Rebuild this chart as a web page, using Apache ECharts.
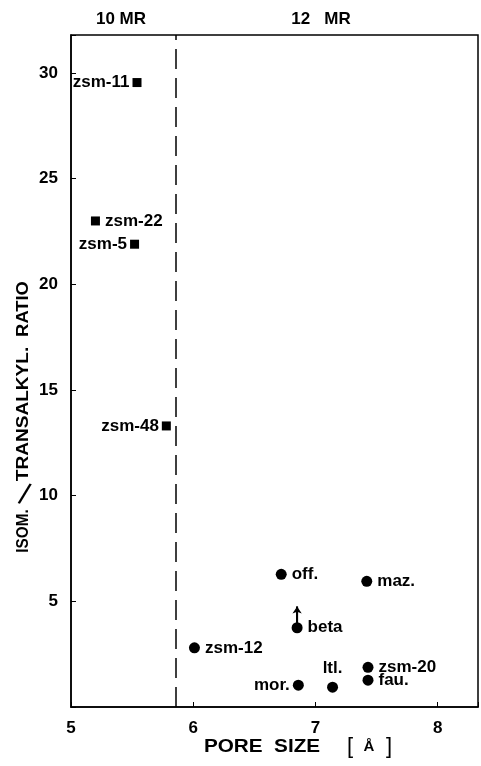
<!DOCTYPE html>
<html><head><meta charset="utf-8">
<script src="https://cdn.jsdelivr.net/npm/echarts@6/dist/echarts.min.js"></script>
<style>html,body{margin:0;padding:0;background:#fff}#c{width:481px;height:766px}</style>
</head><body><div id="c"></div>
<script>
// 10-MR zeolites (squares)
const sqNames = ['zsm-11','zsm-22','zsm-5','zsm-48'];
const sqX = [5.54, 5.20, 5.52, 5.78];
const sqY = [29.55, 23.0, 21.9, 13.3];
const sqPos = ['left','right','left','left'];
// 12-MR zeolites (circles)
const ciNames = ['off.','maz.','beta','zsm-12','zsm-20','fau.','mor.','ltl.'];
const ciX = [6.72, 7.42, 6.85, 6.01, 7.43, 7.43, 6.86, 7.14];
const ciY = [6.28, 5.95, 3.75, 2.8, 1.88, 1.27, 1.03, 0.94];
const ciPos = ['right','right','right','right','right','right','left','top'];
// beta arrow (lower bound)
const betaArrow = [[6.85, 3.75], [6.85, 4.75]];
const boundaryX = 5.86;
const xTicks = [5, 6, 7, 8];
const yTicks = [5, 10, 15, 20, 25, 30];

const font = 'Liberation Sans, Arial, sans-serif';
const chart = echarts.init(document.getElementById('c'));
function pts(names, xs, ys, pos) {
  return names.map((n, i) => ({
    value: [xs[i], ys[i]], name: n,
    label: { show: true, position: pos[i], formatter: n, distance: pos[i] === 'left' ? 3 : 5 }
  }));
}
const lbl = { color: '#000', fontFamily: font, fontWeight: 'bold', fontSize: 17 };
function txt(text, x, y, rotation, sx, weight, size) {
  return { type: 'text', x: x, y: y, rotation: rotation, scaleX: sx,
    style: { text: text, fill: '#000', font: weight + ' ' + size + 'px ' + font, textAlign: 'center', textVerticalAlign: 'middle' } };
}
chart.setOption({
  animation: false,
  grid: { left: 71, right: 1, top: 35, bottom: 59, show: true, borderColor: '#000', borderWidth: 1.5 },
  xAxis: {
    type: 'value', min: 5, max: 8.33, interval: 1,
    axisLine: { lineStyle: { color: '#000', width: 1.5 } },
    axisTick: { inside: true, length: 5, lineStyle: { color: '#000' } },
    axisLabel: { color: '#000', fontFamily: font, fontWeight: 'bold', fontSize: 17, margin: 13,
      formatter: v => xTicks.includes(v) ? String(v) : '' },
    splitLine: { show: false }
  },
  yAxis: {
    type: 'value', min: 0, max: 31.8, interval: 5,
    axisLine: { lineStyle: { color: '#000', width: 1.5 } },
    axisTick: { inside: true, length: 5, lineStyle: { color: '#000' } },
    axisLabel: { color: '#000', fontFamily: font, fontWeight: 'bold', fontSize: 17, margin: 13,
      formatter: v => yTicks.includes(v) ? String(v) : '' },
    splitLine: { show: false }
  },
  series: [
    {
      type: 'scatter', symbol: 'rect', symbolSize: 9,
      itemStyle: { color: '#000', opacity: 1 },
      label: lbl,
      data: pts(sqNames, sqX, sqY, sqPos),
      markLine: {
        silent: true, symbol: 'none', label: { show: false },
        lineStyle: { color: '#000', type: [20, 9], width: 1.5 },
        data: [{ xAxis: boundaryX }]
      }
    },
    {
      type: 'scatter', symbol: 'circle', symbolSize: 11,
      itemStyle: { color: '#000', opacity: 1 },
      label: lbl,
      data: pts(ciNames, ciX, ciY, ciPos)
    },
    {
      type: 'line', data: betaArrow, symbol: 'none',
      lineStyle: { color: '#000', width: 2 }, silent: true,
      markLine: {
        silent: true, symbol: ['none', 'arrow'], symbolSize: 7, label: { show: false },
        lineStyle: { color: '#000', type: 'solid', width: 2 },
        data: [[{ coord: betaArrow[0] }, { coord: betaArrow[1] }]]
      }
    }
  ],
  graphic: [
    txt('10 MR', 121, 19, 0, 1, 'bold', 17),
    txt('12   MR', 321, 19, 0, 1, 'bold', 17),
    txt('PORE  SIZE', 262, 747, 0, 1.15, 'bold', 18),
    txt('[', 350, 747, 0, 1, 'normal', 22),
    txt('Å', 369, 747, 0, 1, 'bold', 15),
    txt(']', 389, 747, 0, 1, 'normal', 22),
    txt('RATIO', 23, 309, Math.PI / 2, 1.08, 'bold', 17),
    txt('TRANSALKYL.', 23, 414, Math.PI / 2, 1.12, 'bold', 17),
    txt('/', 24, 496, -0.28, 1, 'normal', 30),
    txt('ISOM.', 23, 531, Math.PI / 2, 0.9, 'bold', 17)
  ]
});
</script></body></html>
